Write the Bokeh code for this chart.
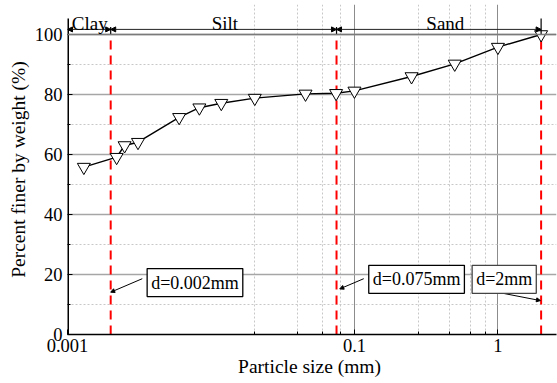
import math
from bokeh.plotting import figure
from bokeh.models import (Range1d, FixedTicker, Label, Arrow, NormalHead, Span)
from bokeh.embed import file_html
from bokeh.resources import INLINE

# ---------------- data ----------------
particle_size = [0.0013, 0.0022, 0.0025, 0.0031, 0.006, 0.0083, 0.0118, 0.0202,
                 0.0456, 0.0745, 0.1, 0.25, 0.5, 1.0, 2.0]
percent_finer = [55.8, 59.1, 63.0, 64.1, 72.4, 75.6, 77.1, 78.8,
                 80.2, 80.4, 81.2, 86.0, 90.2, 95.8, 100.0]

boundary_sizes = [0.002, 0.075, 2.0]
boundary_labels = ["d=0.002mm", "d=0.075mm", "d=2mm"]
class_names = ["Clay", "Silt", "Sand"]
class_edges = [0.001, 0.002, 0.075, 2.0]

y_ticks = [0, 20, 40, 60, 80, 100]
y_minor = [10, 30, 50, 70, 90]
x_ticks = [0.001, 0.1, 1]
x_tick_labels = ["0.001", "0.1", "1"]
x_minor = [0.02, 0.04, 0.06, 0.08, 0.28, 0.46, 0.64, 0.82]

FONT = "Liberation Serif"

p = figure(width=557, height=383, x_axis_type="log",
           x_range=Range1d(0.001, 2.56), y_range=Range1d(0, 110),
           output_backend="svg", toolbar_location=None,
           min_border_left=67, min_border_right=1, min_border_top=4,
           min_border_bottom=49)
p.outline_line_color = None
p.background_fill_color = "white"

# ---- axes ----
xt = FixedTicker(ticks=x_ticks, minor_ticks=x_minor)
yt = FixedTicker(ticks=y_ticks, minor_ticks=y_minor)
p.xaxis.ticker = xt
p.yaxis.ticker = yt
p.xaxis.major_label_overrides = {t: s for t, s in zip(x_ticks, x_tick_labels)}
for ax in (p.xaxis, p.yaxis):
    ax.axis_line_color = "black"
    ax.axis_line_width = 1.5
    ax.major_tick_in = 5
    ax.major_tick_out = 0
    ax.minor_tick_in = 3
    ax.minor_tick_out = 0
    ax.major_tick_line_color = "black"
    ax.minor_tick_line_color = "black"
    ax.major_label_text_font = FONT
    ax.major_label_text_font_size = "18.5px"
    ax.major_label_text_color = "black"
    ax.axis_label_text_font = FONT
    ax.axis_label_text_font_size = "19.5px"
    ax.axis_label_text_font_style = "normal"
    ax.axis_label_text_color = "black"
p.yaxis.axis_line_color = None
p.xaxis.major_label_standoff = 4
p.yaxis.major_label_standoff = 5
p.xaxis.axis_label = "Particle size  (mm)"
p.yaxis.axis_label = "Percent finer by weight (%)"
p.xaxis.axis_label_standoff = 1
p.yaxis.axis_label_standoff = 3

# ---- grid ----
p.xgrid.ticker = xt
p.ygrid.ticker = yt
p.xgrid.grid_line_color = "#8c8c8c"
p.xgrid.grid_line_width = 1
p.ygrid.grid_line_color = "#a6a6a6"
p.ygrid.grid_line_width = 1.3
for g in (p.xgrid, p.ygrid):
    g.minor_grid_line_color = "#c8c8c8"
    g.minor_grid_line_dash = "2 2"
    g.minor_grid_line_width = 1

p.add_layout(Span(location=100, dimension="width", line_color="#7a7a7a", line_width=1.6))

# left spine (runs up to the bracket top), drawn on the frame edge
p.segment(x0=[class_edges[0]], y0=[0], x1=[class_edges[0]], y1=[105.3],
          line_color="black", line_width=3)

# ---- boundary red dashed lines ----
p.segment(x0=boundary_sizes, y0=[0] * 3, x1=boundary_sizes, y1=[100] * 3,
          line_color="red", line_width=2, line_dash="9 6")

# ---- curve ----
p.line(particle_size, percent_finer, line_color="black", line_width=1.4)
p.scatter(particle_size, percent_finer, marker="inverted_triangle", size=13,
          fill_color="white", line_color="black", line_width=1)

# ---- classification brackets on top ----
ARROW_Y = 101.7
for a, b in zip(class_edges[:-1], class_edges[1:]):
    p.add_layout(Arrow(x_start=a, y_start=ARROW_Y, x_end=b, y_end=ARROW_Y,
                       line_color="#222222", line_width=1,
                       start=NormalHead(size=5, fill_color="black", line_color="black"),
                       end=NormalHead(size=5, fill_color="black", line_color="black")))
p.segment(x0=[class_edges[-1]], y0=[100], x1=[class_edges[-1]], y1=[105.3],
          line_color="black", line_width=1.2)
p.segment(x0=class_edges[1:-1], y0=[100.2] * 2, x1=class_edges[1:-1], y1=[102.5] * 2,
          line_color="black", line_width=1.2)

label_x = [0.00143, 0.0125, 0.43]
for name, xc in zip(class_names, label_x):
    p.add_layout(Label(x=xc, y=103.6, text=name, text_align="center",
                       text_baseline="alphabetic", text_font=FONT,
                       text_font_size="19px", text_color="black"))

# ---- boxed annotations ----
box_pos = [(0.00359, 17.3), (0.1258, 18.4), (0.661, 18.4)]
leader = [((0.00332, 18.6), (0.002, 14.1)),
          ((0.1161, 18.6), (0.0790, 15.2)),
          ((1.041, 13.9), (1.978, 11.3))]
border_cols = ["black", "black", "#444444"]
for (bx, by), txt, ((sx, sy), (ex, ey)), bc in zip(box_pos, boundary_labels, leader, border_cols):
    p.add_layout(Arrow(x_start=sx, y_start=sy, x_end=ex, y_end=ey,
                       line_color="black", line_width=1,
                       end=NormalHead(size=4, fill_color="black", line_color="black")))
    p.add_layout(Label(x=bx, y=by, text=txt, text_align="left", text_baseline="middle",
                       text_font=FONT, text_font_size="18px", text_color="black",
                       border_line_color=bc, border_line_width=1.3,
                       background_fill_color="white", padding=4))

open("out.html", "w").write(file_html(p, INLINE))
